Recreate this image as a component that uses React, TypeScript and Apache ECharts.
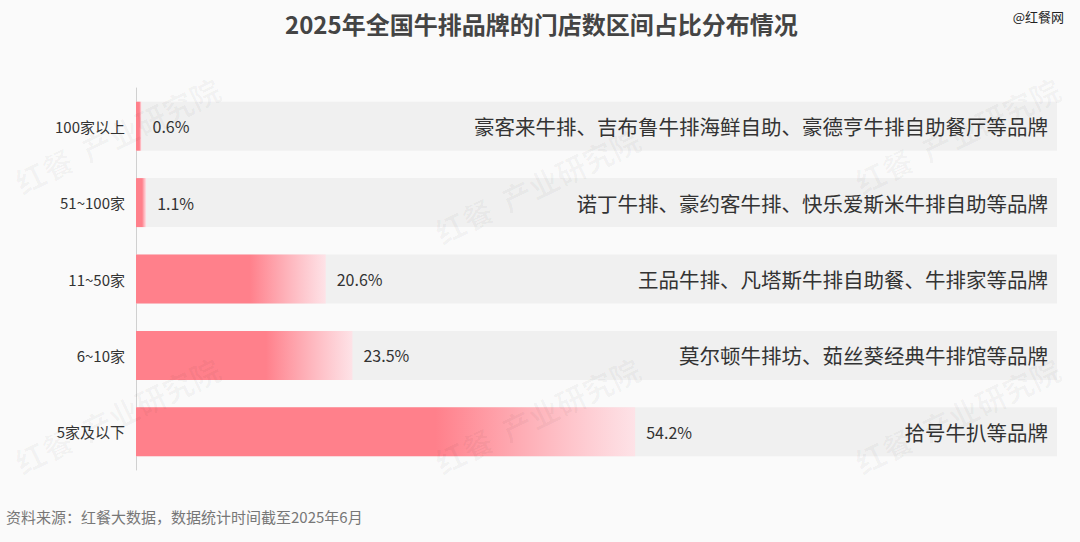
import React, { useEffect, useRef } from "react";
import * as echarts from "echarts";

const categories = ["100家以上", "51~100家", "11~50家", "6~10家", "5家及以下"];
const shares = [0.6, 1.1, 20.6, 23.5, 54.2];
const brands = [
  "豪客来牛排、吉布鲁牛排海鲜自助、豪德亨牛排自助餐厅等品牌",
  "诺丁牛排、豪约客牛排、快乐爱斯米牛排自助等品牌",
  "王品牛排、凡塔斯牛排自助餐、牛排家等品牌",
  "莫尔顿牛排坊、茹丝葵经典牛排馆等品牌",
  "拾号牛扒等品牌",
];
const fullScale = [100, 100, 100, 100, 100];

const FONT = '"Noto Sans CJK SC", "Noto Sans", sans-serif';

export default function App() {
  const ref = useRef<HTMLDivElement>(null);
  useEffect(() => {
    if (!ref.current) return;
    const chart = echarts.init(ref.current, null, { renderer: "svg" });
    const wm = (x: number, y: number) => ({
      type: "text",
      x,
      y,
      rotation: Math.PI / 7,
      silent: true,
      z: 100,
      style: {
        text: "红餐  产业研究院",
        font: `bold 30px ${FONT}`,
        fill: "rgba(0,0,0,0.03)",
      },
    });
    chart.setOption({
      animation: false,
      backgroundColor: "#fafafa",
      textStyle: { fontFamily: FONT },
      title: {
        text: "2025年全国牛排品牌的门店数区间占比分布情况",
        left: 280,
        top: 6,
        textStyle: { fontSize: 24, fontWeight: "bold", color: "#444", fontFamily: FONT },
      },
      graphic: [
        {
          type: "text",
          right: 16,
          top: 10,
          style: { text: "@红餐网", font: `13px ${FONT}`, fill: "#222" },
        },
        {
          type: "text",
          left: 6,
          top: 509,
          style: {
            text: "资料来源：红餐大数据，数据统计时间截至2025年6月",
            font: `15px ${FONT}`,
            fill: "#777",
          },
        },
        wm(10, 170),
        wm(430, 220),
        wm(850, 170),
        wm(10, 450),
        wm(430, 450),
        wm(850, 450),
      ],
      grid: { left: 136, right: 23, top: 88, bottom: 72 },
      xAxis: {
        type: "value",
        min: 0,
        max: 100,
        show: false,
      },
      yAxis: {
        type: "category",
        data: categories,
        inverse: true,
        axisTick: { show: false },
        axisLine: { show: true, lineStyle: { color: "#d0d0d0", width: 1 } },
        axisLabel: { color: "#333", fontSize: 15, margin: 11, fontFamily: FONT },
      },
      series: [
        {
          type: "bar",
          data: fullScale,
          barWidth: 49,
          silent: true,
          itemStyle: { color: "#f0f0f0" },
          label: {
            show: true,
            position: "insideRight",
            offset: [-4, 0],
            formatter: (p: any) => brands[p.dataIndex],
            color: "#333",
            fontSize: 20.5,
            fontFamily: FONT,
          },
        },
        {
          type: "bar",
          data: shares,
          barWidth: 49,
          barGap: "-100%",
          itemStyle: {
            color: new echarts.graphic.LinearGradient(0, 0, 1, 0, [
              { offset: 0, color: "#ff808b" },
              { offset: 0.6, color: "#ff808b" },
              { offset: 1, color: "rgba(255,225,230,0.9)" },
            ]),
          },
          label: {
            show: true,
            position: "right",
            distance: 11,
            formatter: (p: any) => `${p.value}%`,
            color: "#333",
            fontSize: 16,
            fontFamily: FONT,
          },
        },
      ],
    });
    return () => chart.dispose();
  }, []);
  return (
    <div
      ref={ref}
      style={{ position: "absolute", left: 0, top: 0, width: 1080, height: 542 }}
    />
  );
}
